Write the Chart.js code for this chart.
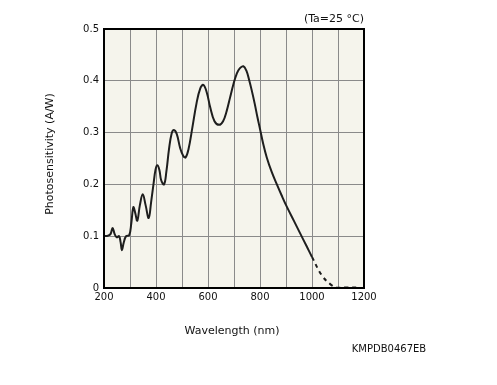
<!DOCTYPE html>
<html>
<head>
<meta charset="utf-8">
<script src="https://cdn.jsdelivr.net/npm/chart.js@4"></script>
<style>
  html, body { margin: 0; padding: 0; background: #fff; }
  canvas { display: block; }
</style>
</head>
<body>
<canvas id="chart" width="497" height="385"></canvas>
<script>
// Spectral response (nm, A/W)
const wavelengths = [200, 215, 225, 233, 241, 249, 258, 264, 269, 276, 285, 297, 305, 313, 320, 328, 338, 349, 360, 372,
  381, 390, 398, 405, 413, 420, 431, 440, 450, 460, 469, 480, 493, 505, 514, 525, 540, 556, 570, 582,
  595, 608, 625, 643, 658, 672, 685, 698, 710, 722, 736, 748, 758, 768, 780, 790, 800, 812, 826, 845,
  864, 883, 903, 930, 954, 980, 1000,
  1037, 1069, 1095, 1130, 1170];
const sensitivity = [0.100, 0.101, 0.104, 0.116, 0.104, 0.098, 0.100, 0.088, 0.073, 0.088, 0.100, 0.102, 0.125, 0.156, 0.145, 0.130, 0.160, 0.181, 0.160, 0.135,
  0.165, 0.199, 0.228, 0.237, 0.228, 0.208, 0.200, 0.225, 0.268, 0.298, 0.305, 0.297, 0.270, 0.255, 0.252, 0.268, 0.310, 0.357, 0.385, 0.392,
  0.378, 0.350, 0.322, 0.315, 0.322, 0.342, 0.368, 0.394, 0.413, 0.424, 0.428, 0.419, 0.402, 0.382, 0.355, 0.330, 0.307, 0.279, 0.252, 0.224,
  0.201, 0.179, 0.157, 0.130, 0.106, 0.080, 0.060,
  0.025, 0.008, 0.001, 0.001, 0.001];
// beyond this wavelength the curve is drawn dashed
const dashedFrom = 1000;

const xTicks = [200, 400, 600, 800, 1000, 1200];
const yTicks = ['0', '0.1', '0.2', '0.3', '0.4', '0.5'];

const FONT = 'DejaVu Sans';

// fill plot background, draw frame and the loose texts
const framePlugin = {
  id: 'frame',
  beforeDraw(chart) {
    const { ctx, chartArea: a } = chart;
    ctx.save();
    ctx.fillStyle = '#f5f4ec';
    ctx.fillRect(a.left, a.top, a.right - a.left, a.bottom - a.top);
    ctx.restore();
  },
  afterDraw(chart) {
    const { ctx, chartArea: a } = chart;
    ctx.save();
    ctx.strokeStyle = '#000';
    ctx.lineWidth = 2;
    ctx.strokeRect(a.left, a.top, a.right - a.left, a.bottom - a.top);

    ctx.fillStyle = '#111';
    ctx.font = '11px "' + FONT + '"';
    ctx.textBaseline = 'middle';
    ctx.textAlign = 'center';
    ctx.fillText('Wavelength (nm)', 232, 331);
    ctx.textAlign = 'right';
    ctx.fillText('(Ta=25 °C)', 364, 19);
    ctx.font = '10px "' + FONT + '"';
    ctx.textAlign = 'center';
    ctx.fillText('KMPDB0467EB', 389, 349);

    ctx.font = '11px "' + FONT + '"';
    ctx.translate(50, 154);
    ctx.rotate(-Math.PI / 2);
    ctx.fillText('Photosensitivity (A/W)', 0, 0);
    ctx.restore();
  }
};

new Chart(document.getElementById('chart'), {
  type: 'line',
  data: {
    datasets: [{
      data: wavelengths.map((w, i) => ({ x: w, y: sensitivity[i] })),
      borderColor: '#1e1e1e',
      borderWidth: 2,
      pointRadius: 0,
      fill: false,
      tension: 0.4,
      segment: {
        borderDash: ctx => ctx.p0.parsed.x >= dashedFrom ? [4, 4] : undefined
      }
    }]
  },
  options: {
    responsive: false,
    animation: false,
    events: [],
    layout: { padding: { left: 0, top: 29, right: 133, bottom: 0 } },
    plugins: { legend: { display: false }, tooltip: { enabled: false } },
    scales: {
      x: {
        type: 'linear',
        min: 200,
        max: 1200,
        afterFit: s => { s.height = 97; },
        afterBuildTicks: s => {
          s.ticks = [];
          for (let v = 200; v <= 1200; v += 100) s.ticks.push({ value: v });
        },
        grid: { color: '#8a8a8a', lineWidth: 1, drawTicks: false },
        border: { display: false },
        ticks: {
          autoSkip: false,
          maxRotation: 0,
          padding: 3,
          color: '#111',
          font: { family: FONT, size: 10 },
          callback: v => xTicks.includes(v) ? String(v) : ''
        }
      },
      y: {
        min: 0,
        max: 0.5,
        afterFit: s => { s.width = 104; },
        grid: { color: '#8a8a8a', lineWidth: 1, drawTicks: false },
        border: { display: false },
        ticks: {
          stepSize: 0.1,
          padding: 5,
          color: '#111',
          font: { family: FONT, size: 10 },
          callback: (v, i) => yTicks[i]
        }
      }
    }
  },
  plugins: [framePlugin]
});
</script>
</body>
</html>
